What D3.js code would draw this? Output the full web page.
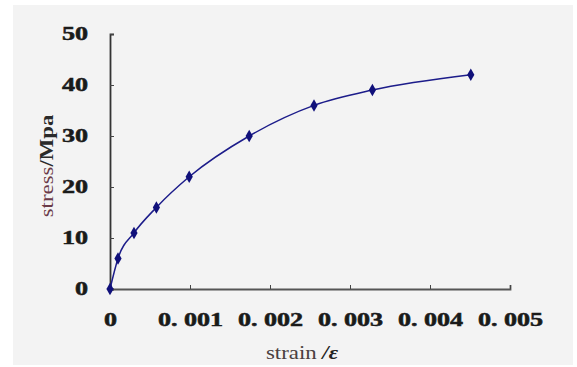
<!DOCTYPE html>
<html>
<head>
<meta charset="utf-8">
<script src="https://cdn.jsdelivr.net/npm/d3@7"></script>
<style>
  body { margin: 0; background: #fff; }
  svg { display: block; }
</style>
</head>
<body>
<div id="chart"></div>
<script>
// strain (x) and stress in Mpa (y)
const strain = [0, 0.0001, 0.0003, 0.00058, 0.00099, 0.00174, 0.00255, 0.00328, 0.00451];
const stress = [0, 6, 11, 16, 22, 30, 36, 39, 42];
const xTicks = [0, 0.001, 0.002, 0.003, 0.004, 0.005];
const xTickLabels = ['0', '0. 001', '0. 002', '0. 003', '0. 004', '0. 005'];
const yTicks = [0, 10, 20, 30, 40, 50];

const W = 577, H = 367;
const mLeft = 110, mRight = 510, mTop = 34, mBottom = 289;

const svg = d3.select('#chart')
  .append('svg')
  .attr('width', W)
  .attr('height', H);

// grey panel
svg.append('rect')
  .attr('x', 13).attr('y', 5)
  .attr('width', 560).attr('height', 360)
  .attr('fill', '#f3f3f3');

const x = d3.scaleLinear().domain([0, 0.005]).range([mLeft, mRight]);
const y = d3.scaleLinear().domain([0, 50]).range([mBottom, mTop]);

// the scan's digits are wide and heavy, so stretch them sideways
function widen(sel, k) {
  sel.each(function() {
    const w = this.getComputedTextLength();
    d3.select(this)
      .attr('textLength', w * k)
      .attr('lengthAdjust', 'spacingAndGlyphs');
  });
}

// X axis
const xAxis = svg.append('g')
  .attr('transform', 'translate(0,' + mBottom + ')')
  .call(d3.axisBottom(x).tickValues(xTicks).tickSize(-4).tickFormat((d, i) => xTickLabels[i]));
xAxis.select('.domain').attr('stroke', '#555').attr('stroke-width', 1.8);
xAxis.selectAll('.tick line').attr('stroke', '#444');
xAxis.selectAll('text')
  .attr('y', 24)
  .attr('font-family', 'Liberation Serif, serif')
  .attr('font-weight', 'bold')
  .attr('font-size', 18)
  .attr('fill', '#1a1a1a')
  .attr('stroke', '#1a1a1a')
  .attr('stroke-width', 0.5)
  .call(widen, 1.45);

// Y axis
const yAxis = svg.append('g')
  .attr('transform', 'translate(' + mLeft + ',0)')
  .call(d3.axisLeft(y).tickValues(yTicks).tickSize(-4));
yAxis.select('.domain').attr('stroke', '#333').attr('stroke-width', 1.8);
yAxis.selectAll('.tick line').attr('stroke', '#444');
yAxis.selectAll('text')
  .attr('x', -22)
  .attr('font-family', 'Liberation Serif, serif')
  .attr('font-weight', 'bold')
  .attr('font-size', 18)
  .attr('fill', '#1a1a1a')
  .attr('stroke', '#1a1a1a')
  .attr('stroke-width', 0.5)
  .call(widen, 1.45);

// axis titles
const xTitle = svg.append('text')
  .attr('x', 302).attr('y', 359)
  .attr('text-anchor', 'middle')
  .attr('font-family', 'Liberation Serif, serif')
  .attr('font-size', 19)
  .attr('fill', '#4a4040');
xTitle.append('tspan').text('strain ');
xTitle.append('tspan').attr('font-style', 'italic').attr('font-weight', 'bold').attr('fill', '#222').text('/ε');
xTitle.call(widen, 1.2);

const yTitle = svg.append('text')
  .attr('transform', 'translate(53,166) rotate(-90)')
  .attr('text-anchor', 'middle')
  .attr('font-family', 'Liberation Serif, serif')
  .attr('font-size', 19)
  .attr('fill', '#6a3a48');
yTitle.append('tspan').text('stress');
yTitle.append('tspan').attr('font-weight', 'bold').attr('fill', '#2a2a2a').text('/Mpa');
yTitle.call(widen, 1.2);

// curve
const pts = strain.map((s, i) => [s, stress[i]]);
svg.append('path')
  .datum(pts)
  .attr('fill', 'none')
  .attr('stroke', '#1c1c8a')
  .attr('stroke-width', 1.5)
  .attr('d', d3.line().x(d => x(d[0])).y(d => y(d[1])).curve(d3.curveMonotoneX));

svg.selectAll('.pt')
  .data(pts)
  .enter()
  .append('path')
  .attr('class', 'pt')
  .attr('transform', d => 'translate(' + x(d[0]) + ',' + y(d[1]) + ')')
  .attr('d', d3.symbol().type(d3.symbolDiamond).size(45))
  .attr('fill', '#10107a');
</script>
</body>
</html>
